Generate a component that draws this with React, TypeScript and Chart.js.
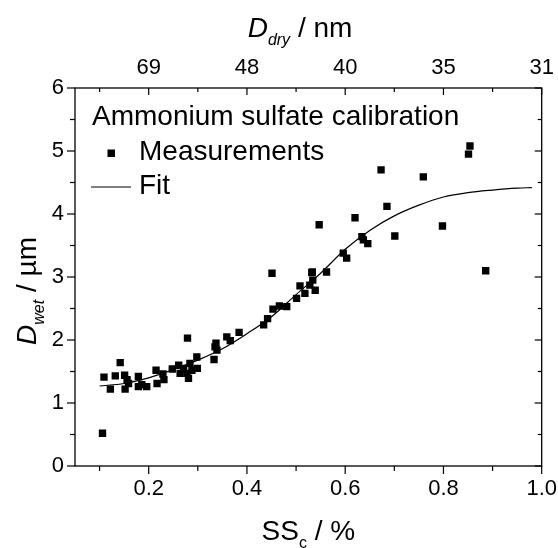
import React, { useEffect, useRef } from "react";
import { Chart, registerables } from "chart.js";

Chart.register(...registerables);

// ---- data ----
const ssMeasured = [
  0.106, 0.109, 0.122, 0.132, 0.142, 0.151, 0.152, 0.156, 0.159, 0.179, 0.179, 0.186, 0.196,
  0.215, 0.217, 0.229, 0.231, 0.248, 0.261, 0.264, 0.271, 0.279, 0.281, 0.278, 0.284, 0.288,
  0.298, 0.299, 0.333, 0.335, 0.337, 0.339, 0.359, 0.366, 0.384, 0.434, 0.442, 0.451, 0.453,
  0.466, 0.481, 0.501, 0.508, 0.518, 0.528, 0.532, 0.539, 0.534, 0.547, 0.533, 0.562, 0.596,
  0.603, 0.62, 0.634, 0.637, 0.646, 0.673, 0.685, 0.701, 0.759, 0.798, 0.851, 0.854, 0.886,
];
const dWetMeasured = [
  0.52, 1.41, 1.22, 1.43, 1.64, 1.44, 1.22, 1.37, 1.31, 1.42, 1.26, 1.29, 1.26,
  1.52, 1.31, 1.46, 1.37, 1.54, 1.6, 1.47, 1.55, 2.03, 1.39, 1.47, 1.63, 1.52,
  1.73, 1.55, 1.69, 1.89, 1.95, 1.84, 2.05, 1.99, 2.12, 2.24, 2.34, 3.06, 2.49,
  2.54, 2.53, 2.66, 2.86, 2.74, 2.87, 3.07, 2.79, 2.95, 3.83, 3.08, 3.08, 3.38,
  3.3, 3.94, 3.64, 3.59, 3.53, 4.7, 4.12, 3.65, 4.59, 3.81, 4.95, 5.08, 3.1,
];
const ssFit = [0.1, 0.15, 0.2, 0.25, 0.3, 0.35, 0.4, 0.45, 0.5, 0.55, 0.6, 0.65, 0.7, 0.75, 0.8, 0.85, 0.9, 0.95, 0.98];
const dWetFit = [1.27, 1.31, 1.4, 1.53, 1.68, 1.86, 2.1, 2.37, 2.72, 3.06, 3.44, 3.74, 3.97, 4.14, 4.27, 4.34, 4.38, 4.41, 4.42];

const xTickValues = [0.2, 0.4, 0.6, 0.8, 1.0];
const xMinorTickValues = [0.1, 0.3, 0.5, 0.7, 0.9];
const yTickValues = [0, 1, 2, 3, 4, 5, 6];
const yMinorTickValues = [0.5, 1.5, 2.5, 3.5, 4.5, 5.5];
const topTickValues = [0.2, 0.4, 0.6, 0.8, 1.0];
const topTickLabels = ["69", "48", "40", "35", "31"];

const legendTitle = "Ammonium sulfate calibration";
const legendMeasured = "Measurements";
const legendFit = "Fit";

const FONT = "'Liberation Sans', Arial, Helvetica, sans-serif";

function drawRich(ctx: CanvasRenderingContext2D, parts: { t: string; size: number; italic?: boolean; dy?: number }[], cx: number, baseline: number) {
  let total = 0;
  const widths = parts.map((p) => {
    ctx.font = `${p.italic ? "italic " : ""}${p.size}px ${FONT}`;
    const w = ctx.measureText(p.t).width;
    total += w;
    return w;
  });
  let x = cx - total / 2;
  ctx.textAlign = "left";
  ctx.textBaseline = "alphabetic";
  parts.forEach((p, i) => {
    ctx.font = `${p.italic ? "italic " : ""}${p.size}px ${FONT}`;
    ctx.fillText(p.t, x, baseline + (p.dy || 0));
    x += widths[i];
  });
}

const decorPlugin = {
  id: "decor",
  afterDraw(chart: any) {
    const { ctx, chartArea: a, scales } = chart;
    const xs = scales.x;
    const ys = scales.y;
    ctx.save();
    ctx.strokeStyle = "#000";
    ctx.fillStyle = "#000";
    ctx.lineWidth = 1.3;
    ctx.strokeRect(a.left, a.top, a.right - a.left, a.bottom - a.top);

    ctx.lineWidth = 1.2;
    const tick = (x1: number, y1: number, x2: number, y2: number) => {
      ctx.beginPath();
      ctx.moveTo(x1, y1);
      ctx.lineTo(x2, y2);
      ctx.stroke();
    };
    xTickValues.forEach((v) => {
      const px = xs.getPixelForValue(v);
      tick(px, a.bottom, px, a.bottom + 8);
      tick(px, a.top, px, a.top + 7);
    });
    xMinorTickValues.forEach((v) => {
      const px = xs.getPixelForValue(v);
      tick(px, a.bottom, px, a.bottom + 5);
      tick(px, a.top, px, a.top + 4);
    });
    yTickValues.forEach((v) => {
      const py = ys.getPixelForValue(v);
      tick(a.left - 8, py, a.left, py);
      tick(a.right - 7, py, a.right, py);
    });
    yMinorTickValues.forEach((v) => {
      const py = ys.getPixelForValue(v);
      tick(a.left - 5, py, a.left, py);
      tick(a.right - 4, py, a.right, py);
    });

    // axis titles
    drawRich(ctx, [
      { t: "SS", size: 28 },
      { t: "c", size: 16, dy: 8 },
      { t: " / %", size: 28 },
    ], (a.left + a.right) / 2, 540);

    drawRich(ctx, [
      { t: "D", size: 28, italic: true },
      { t: "dry", size: 16, italic: true, dy: 8 },
      { t: " / nm", size: 28 },
    ], 300, 37);

    ctx.save();
    ctx.translate(36, 291);
    ctx.rotate(-Math.PI / 2);
    drawRich(ctx, [
      { t: "D", size: 28, italic: true },
      { t: "wet", size: 16, italic: true, dy: 8 },
      { t: " / \u00b5m", size: 28 },
    ], 0, 0);
    ctx.restore();

    // legend
    ctx.font = `28px ${FONT}`;
    ctx.textAlign = "left";
    ctx.textBaseline = "alphabetic";
    ctx.fillText(legendTitle, 92, 125);
    ctx.fillText(legendMeasured, 139, 160);
    ctx.fillText(legendFit, 139, 194);
    ctx.fillRect(107.5, 149.5, 7.5, 7.5);
    ctx.lineWidth = 1.2;
    tick(91, 187, 131, 187);
    ctx.restore();
  },
};

export default function App() {
  const ref = useRef<HTMLCanvasElement | null>(null);

  useEffect(() => {
    document.body.style.margin = "0";
    const canvas = ref.current;
    if (!canvas) return;
    const measured = ssMeasured.map((x, i) => ({ x, y: dWetMeasured[i] }));
    const fit = ssFit.map((x, i) => ({ x, y: dWetFit[i] }));
    const tickFont = { family: FONT, size: 22 };
    const noPadH = (s: any, h: number) => {
      s.height = h;
      s.paddingLeft = 0;
      s.paddingRight = 0;
    };
    const noPadV = (s: any, w: number) => {
      s.width = w;
      s.paddingTop = 0;
      s.paddingBottom = 0;
    };

    const chart = new Chart(canvas, {
      type: "scatter",
      data: {
        datasets: [
          {
            label: legendMeasured,
            data: measured,
            pointStyle: "rect",
            pointRadius: 5.2,
            pointBorderWidth: 0,
            pointBackgroundColor: "#000",
            backgroundColor: "#000",
            borderColor: "#000",
            showLine: false,
          },
          {
            label: legendFit,
            data: fit,
            showLine: true,
            pointRadius: 0,
            borderColor: "#000",
            borderWidth: 1.2,
            cubicInterpolationMode: "monotone",
          },
        ],
      },
      options: {
        animation: false,
        responsive: true,
        maintainAspectRatio: false,
        layout: { padding: 0 },
        plugins: { legend: { display: false }, tooltip: { enabled: false } },
        scales: {
          x: {
            type: "linear",
            position: "bottom",
            min: 0.05,
            max: 1.0,
            grid: { display: false, drawTicks: false },
            border: { display: false },
            afterBuildTicks: (s: any) => {
              s.ticks = xTickValues.map((v) => ({ value: v }));
            },
            ticks: {
              font: tickFont,
              color: "#000",
              padding: 10,
              maxRotation: 0,
              autoSkip: false,
              callback: (v: any) => Number(v).toFixed(1),
            },
            afterFit: (s: any) => noPadH(s, 82),
          },
          x2: {
            type: "linear",
            position: "top",
            min: 0.05,
            max: 1.0,
            grid: { display: false, drawTicks: false },
            border: { display: false },
            afterBuildTicks: (s: any) => {
              s.ticks = topTickValues.map((v) => ({ value: v }));
            },
            ticks: {
              font: tickFont,
              color: "#000",
              padding: 7,
              maxRotation: 0,
              autoSkip: false,
              callback: (v: any) => {
                const i = topTickValues.findIndex((t) => Math.abs(t - Number(v)) < 1e-6);
                return i >= 0 ? topTickLabels[i] : "";
              },
            },
            afterFit: (s: any) => noPadH(s, 88),
          },
          y: {
            type: "linear",
            position: "left",
            min: 0,
            max: 6,
            grid: { display: false, drawTicks: false },
            border: { display: false },
            afterBuildTicks: (s: any) => {
              s.ticks = yTickValues.map((v) => ({ value: v }));
            },
            ticks: { font: tickFont, color: "#000", padding: 11, autoSkip: false },
            afterFit: (s: any) => noPadV(s, 75),
          },
          y2: {
            type: "linear",
            position: "right",
            min: 0,
            max: 6,
            grid: { display: false, drawTicks: false },
            border: { display: false },
            ticks: { display: false },
            afterFit: (s: any) => noPadV(s, 16.3),
          },
        },
      },
      plugins: [decorPlugin],
    } as any);
    return () => chart.destroy();
  }, []);

  return (
    <div style={{ position: "absolute", left: 0, top: 0, width: 558, height: 548 }}>
      <canvas ref={ref} />
    </div>
  );
}
